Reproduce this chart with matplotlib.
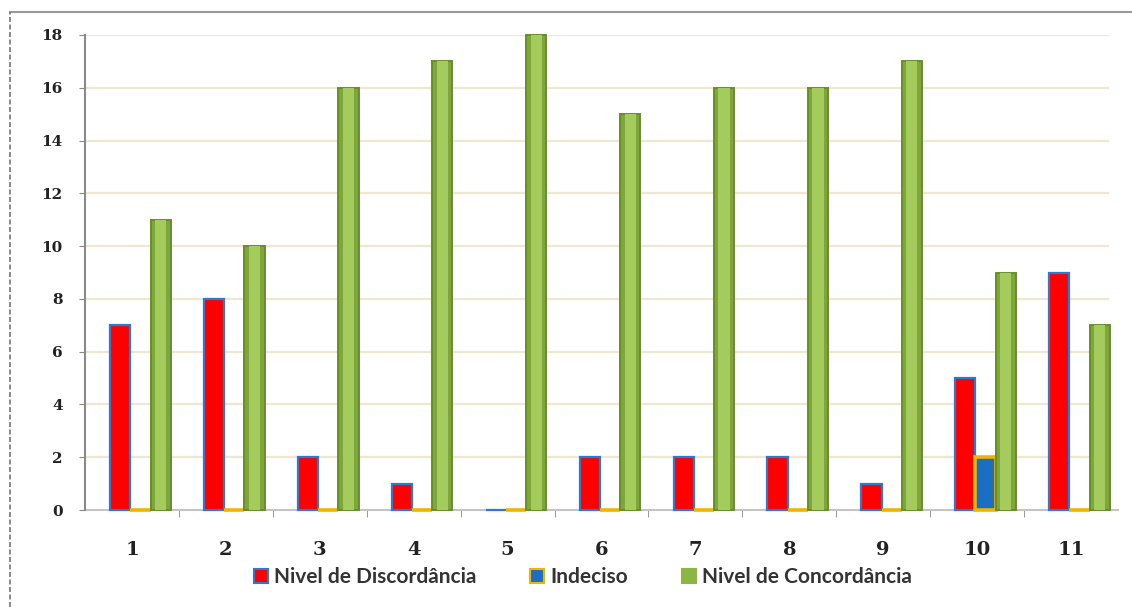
import matplotlib
matplotlib.use("Agg")
import matplotlib.pyplot as plt
from matplotlib.lines import Line2D
from matplotlib.patches import Patch
import numpy as np

categories = ["1", "2", "3", "4", "5", "6", "7", "8", "9", "10", "11"]
discordancia = [7, 8, 2, 1, 0, 2, 2, 2, 1, 5, 9]
indeciso = [0, 0, 0, 0, 0, 0, 0, 0, 0, 2, 0]
concordancia = [11, 10, 16, 17, 18, 15, 16, 16, 17, 9, 7]
series_names = ["Nivel de Discordância", "Indeciso", "Nivel de Concordância"]
y_ticks = [0, 2, 4, 6, 8, 10, 12, 14, 16, 18]

W, H = 1132, 607
fig = plt.figure(figsize=(W / 100, H / 100), dpi=100)
fig.patch.set_facecolor("white")
ax = fig.add_axes([85 / W, 1 - 510 / H, (1118 - 85) / W, (510 - 35) / H])

x = np.arange(len(categories))
bw = 0.215
off = 0.09

# Gridlines
for t in y_ticks[1:]:
    ax.axhline(t, color="#efe7d0", lw=1.6, zorder=0, xmin=0.0, xmax=0.99)

# Red bars (blue rim)
ax.bar(x + off - bw, discordancia, width=bw, color="#ff0000", edgecolor="#2a7ad0",
       linewidth=1.6, zorder=4, clip_on=False)
# Blue bars (orange rim)
ax.bar(x + off, indeciso, width=bw, color="#1a6fc4", edgecolor="#f0b400",
       linewidth=2.6, zorder=4, clip_on=False)
# Green bars
ax.bar(x + off + bw, concordancia, width=bw, color="#7fa63a", edgecolor="#6a8d2c",
       linewidth=1.4, zorder=4, clip_on=False)
ax.bar(x + off + bw, concordancia, width=bw * 0.55, color="#a4cc5c",
       linewidth=0, zorder=4.1, clip_on=False)

ax.set_xlim(-0.5, len(categories) - 0.5)
ax.set_ylim(0, 18)
ax.set_yticks(y_ticks)
ax.set_yticklabels([str(t) for t in y_ticks], fontfamily="DejaVu Serif",
                   fontweight="bold", fontsize=11, color="#222222")
ax.set_xticks(x)
ax.set_xticklabels(categories, fontfamily="DejaVu Serif", fontweight="bold",
                   fontsize=14, color="#222222")
ax.set_xticks(np.arange(0.5, len(categories) - 0.5, 1), minor=True)
ax.tick_params(axis="x", which="major", length=0, pad=22)
ax.tick_params(axis="x", which="minor", length=5, color="#888888", direction="out")
ax.tick_params(axis="y", length=4, color="#888888", pad=12)

for s in ["top", "right"]:
    ax.spines[s].set_visible(False)
ax.spines["left"].set_color("#8a8a8a")
ax.spines["left"].set_linewidth(1.5)
ax.spines["bottom"].set_color("#c4c4c4")
ax.spines["bottom"].set_linewidth(1.5)
ax.spines["bottom"].set_zorder(2)
ax.set_facecolor("none")

# Legend
handles = [
    Patch(facecolor="#ff0000", edgecolor="#2a7ad0", linewidth=1.5),
    Patch(facecolor="#1a6fc4", edgecolor="#f0b400", linewidth=1.5),
    Patch(facecolor="#8db544", edgecolor="#8db544", linewidth=1.5),
]
fig.legend(handles, series_names, loc="center", bbox_to_anchor=(583 / W, 1 - 577 / H),
           ncol=3, frameon=False, handlelength=0.65, handleheight=0.65,
           handletextpad=0.3, columnspacing=2.6,
           prop={"family": "Lato", "weight": "bold", "size": 15})
for t in fig.legends[0].get_texts():
    t.set_color("#333333")

# Outer border
fig.add_artist(Line2D([10 / W, 1.0], [1 - 12 / H, 1 - 12 / H], color="#9a9a9a", lw=1.5,
                      transform=fig.transFigure))
fig.add_artist(Line2D([10 / W, 10 / W], [0, 1 - 12 / H], color="#777777", lw=1.2,
                      ls=(0, (3, 1.5)), transform=fig.transFigure))

fig.savefig("out.png", dpi=100)
